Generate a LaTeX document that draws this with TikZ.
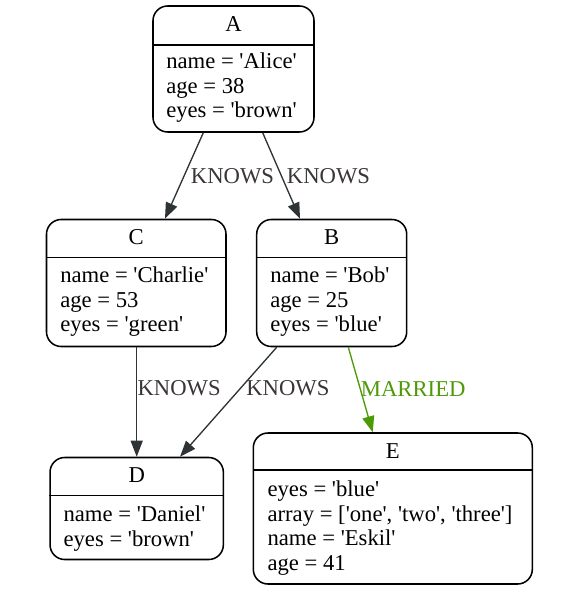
\documentclass[tikz,border=0pt]{standalone}
\usepackage{fontspec}
\setmainfont{Liberation Serif}[Ligatures=TeXOff]
\usetikzlibrary{arrows.meta,calc}
\definecolor{edgec}{HTML}{2E3436}
\definecolor{labc}{HTML}{3B3535}
\definecolor{marc}{HTML}{4E9A06}
\tikzset{
  rec/.style={draw=black, line width=1.15pt, rounded corners=11pt, inner sep=0pt, fill=white},
  ttl/.style={anchor=base, inner sep=0pt, font=\fontsize{17}{18.45}\selectfont},
  ln/.style={anchor=base west, inner sep=0pt, font=\fontsize{17}{18.45}\selectfont},
  hdr/.style={draw=black, line width=1.15pt},
  edg/.style={draw=edgec, line width=1pt, -{Triangle[length=12pt,width=9pt]}},
  lab/.style={anchor=base west, inner sep=0pt, text=labc, font=\fontsize{17}{18.45}\selectfont},
}
\begin{document}
\begin{tikzpicture}[x=0.75pt,y=-0.75pt]
\useasboundingbox (0,0) rectangle (575,595);
% boxes
\node[rec, minimum width={161*0.75pt}, minimum height={126*0.75pt}] (A) at (233.5,69) {};
\node[rec, minimum width={179.5*0.75pt}, minimum height={127*0.75pt}] (C) at (136.25,283) {};
\node[rec, minimum width={150*0.75pt}, minimum height={127*0.75pt}] (B) at (331.7,283) {};
\node[rec, minimum width={173.3*0.75pt}, minimum height={102*0.75pt}] (D) at (136.7,508.5) {};
\node[rec, minimum width={279*0.75pt}, minimum height={151*0.75pt}] (E) at (392.8,508.5) {};
% header lines
\draw[hdr] (A.west |- 0,45) -- (A.east |- 0,45);
\draw[hdr] (C.west |- 0,257.3) -- (C.east |- 0,257.3);
\draw[hdr] (B.west |- 0,257.3) -- (B.east |- 0,257.3);
\draw[hdr] (D.west |- 0,495.7) -- (D.east |- 0,495.7);
\draw[hdr] (E.west |- 0,470) -- (E.east |- 0,470);
% titles
\node[ttl] (At) at (233.5,32) {A};
\node[ttl] (Ct) at (136.25,244.3) {C};
\node[ttl] (Bt) at (331.7,244.3) {B};
\node[ttl] (Dt) at (136.7,482.7) {D};
\node[ttl] (Et) at (392.8,458) {E};
% bodies
\node[ln] (A1) at (166,69) {name = 'Alice'};
\node[ln] (A2) at (166,93.5) {age = 38};
\node[ln] (A3) at (166,118) {eyes = 'brown'};
\node[ln] (C1) at (60,282.7) {name = 'Charlie'};
\node[ln] (C2) at (60,307.3) {age = 53};
\node[ln] (C3) at (60,331.9) {eyes = 'green'};
\node[ln] (B1) at (270,282.7) {name = 'Bob'};
\node[ln] (B2) at (270,307.3) {age = 25};
\node[ln] (B3) at (270,331.9) {eyes = 'blue'};
\node[ln] (D1) at (63.3,521.7) {name = 'Daniel'};
\node[ln] (D2) at (63.3,546.3) {eyes = 'brown'};
\node[ln] (E1) at (267.3,496.7) {eyes = 'blue'};
\node[ln] (E2) at (267.3,521.3) {array = ['one', 'two', 'three']};
\node[ln] (E3) at (267.3,545.9) {name = 'Eskil'};
\node[ln] (E4) at (267.3,570.5) {age = 41};
% edges
\draw[edg] ($(A.south)+(-30.2,0)$) -- ($(C.north)+(28.75,0)$);
\draw[edg] ($(A.south)+(29.2,0)$) -- ($(B.north)+(-31.7,0)$);
\draw[edg] ($(C.south)+(0.45,0)$) -- (D.north);
\draw[edg] ($(B.south)+(-55,0)$) -- ($(D.north)+(43.3,0)$);
\draw[edg, draw=marc, fill=marc] ($(B.south)+(16.6,0)$) -- ($(E.north)+(-20.1,0)$);
% labels
\node[lab] (l1) at (190.7,183.3) {KNOWS};
\node[lab] (l2) at (286.7,183.3) {KNOWS};
\node[lab] (l3) at (137.3,395) {KNOWS};
\node[lab] (l4) at (246,395) {KNOWS};
\node[lab, text=marc] (l5) at (360.7,396) {MARRIED};
\end{tikzpicture}
\end{document}
